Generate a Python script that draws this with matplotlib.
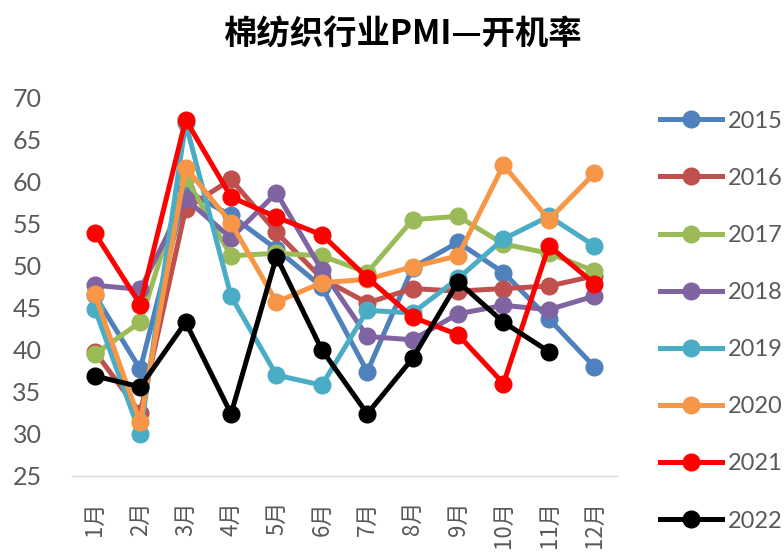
import matplotlib.pyplot as plt

months = ['1月', '2月', '3月', '4月', '5月', '6月', '7月', '8月', '9月', '10月', '11月', '12月']

y2015 = [46.5, 37.7, 59.0, 56.0, 52.0, 47.5, 37.4, 49.8, 52.8, 49.2, 43.7, 38.0]
y2016 = [39.8, 32.5, 56.8, 60.3, 54.0, 48.5, 45.6, 47.3, 47.0, 47.3, 47.6, 48.8]
y2017 = [39.5, 43.3, 60.5, 51.2, 51.5, 51.2, 49.2, 55.5, 55.9, 52.6, 51.5, 49.4]
y2018 = [47.7, 47.2, 58.0, 53.3, 58.7, 49.5, 41.6, 41.2, 44.3, 45.3, 44.8, 46.4]
y2019 = [44.9, 30.0, 67.0, 46.4, 37.0, 35.8, 44.7, 44.4, 48.5, 53.2, 55.9, 52.4]
y2020 = [46.6, 31.4, 61.7, 55.1, 45.7, 48.0, 48.4, 49.9, 51.2, 62.0, 55.5, 61.0]
y2021 = [53.9, 45.4, 67.4, 58.2, 55.8, 53.7, 48.6, 43.9, 41.8, 36.0, 52.4, 47.9]
y2022 = [36.9, 35.6, 43.3, 32.4, 51.1, 40.0, 32.4, 39.0, 48.1, 43.3, 39.8]

series = [
    ('2015', y2015, '#4F81BD'),
    ('2016', y2016, '#C0504D'),
    ('2017', y2017, '#9BBB59'),
    ('2018', y2018, '#8064A2'),
    ('2019', y2019, '#4BACC6'),
    ('2020', y2020, '#F79646'),
    ('2021', y2021, '#FF0000'),
    ('2022', y2022, '#000000'),
]

plt.rcParams['font.family'] = ['Lato', 'Noto Sans CJK SC', 'DejaVu Sans']

fig = plt.figure(figsize=(7.84, 5.56), dpi=100)
ax = fig.add_axes([0.092, 0.144, 0.695, 0.68])

for name, vals, col in series:
    ax.plot(range(len(vals)), vals, '-o', color=col, lw=3.6, ms=12, label=name)

ax.set_xlim(-0.5, 11.5)
ax.set_ylim(25, 70)
ax.set_yticks(range(25, 71, 5))
ax.set_xticks(range(12))
# 10-12月 stay inside the canvas
ax.set_xticklabels(months, rotation=90, family=['Noto Sans CJK SC', 'DejaVu Sans'],
                   fontsize=16, fontweight='light', color='#595959')
ax.tick_params(axis='y', length=0, pad=22, labelsize=18, labelcolor='#595959')
ax.tick_params(axis='x', length=0, pad=18)

for s in ['top', 'right', 'left']:
    ax.spines[s].set_visible(False)
ax.spines['bottom'].set_color('#D9D9D9')
ax.spines['bottom'].set_linewidth(1)

fig.text(0.514, 0.937, '棉纺织行业PMI—开机率', ha='center', va='center',
         fontsize=24, fontweight='bold', family=['Noto Sans CJK SC', 'DejaVu Sans'])

leg = fig.legend(loc='upper left', bbox_to_anchor=(0.83, 0.818), frameon=False,
                 fontsize=17, labelspacing=1.53, handlelength=2.6, handletextpad=0.25,
                 labelcolor='#595959', borderaxespad=0)

fig.savefig('out.png', dpi=100)
